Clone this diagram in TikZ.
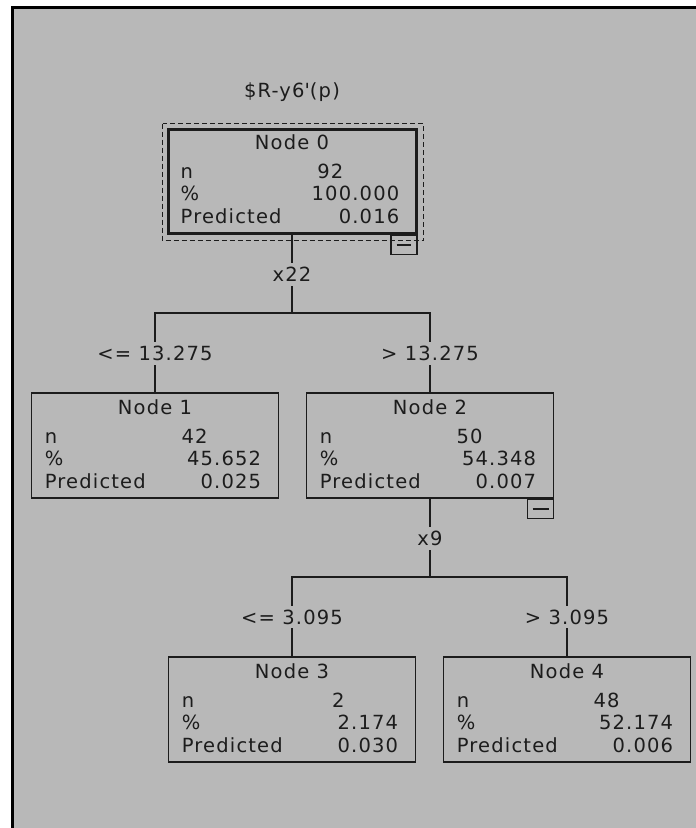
\documentclass[tikz,border=0pt]{standalone}
\usepackage{fontspec}
\newfontfamily\treefont{DejaVu Sans}[LetterSpace=6]
\definecolor{panelgray}{RGB}{184,184,184}
\definecolor{inkgray}{RGB}{28,28,28}
\tikzset{
    treebox/.style={rectangle, draw=inkgray, line width=1.6pt, minimum width=247pt, minimum height=105pt, inner sep=0pt},
    rootbox/.style={treebox, line width=3pt, minimum width=248pt, minimum height=104pt},
    dotbox/.style={draw=inkgray, line width=1.8pt, dash pattern=on 5pt off 3pt},
    iconbox/.style={rectangle, draw=inkgray, line width=1.6pt, minimum width=26pt, minimum height=19pt, inner sep=0pt, anchor=north east},
    celltext/.style={inner sep=0pt, text height=14pt, text depth=0pt, text=inkgray, font=\treefont\fontsize{19.5pt}{22pt}\selectfont},
    splitlabel/.style={celltext, minimum height=24pt},
    branch/.style={draw=inkgray, line width=1.6pt, line cap=rect}
}
% title row and the three statistic rows of one tree node
\newcommand{\noderows}[5]{%
    \node[celltext] (#1-t) at ([yshift=-15pt]#1.north) {#2};
    \node[celltext, anchor=west] (#1-nl) at ([shift={(14pt,-44pt)}]#1.north west) {n};
    \node[celltext, anchor=east] (#1-nv) at ([shift={(177pt,-44pt)}]#1.north west) {#3};
    \node[celltext, anchor=west] (#1-pl) at ([shift={(14pt,-66pt)}]#1.north west) {\%};
    \node[celltext, anchor=east] (#1-pv) at ([shift={(-18pt,-66pt)}]#1.north east) {#4};
    \node[celltext, anchor=west] (#1-ql) at ([shift={(14pt,-89pt)}]#1.north west) {Predicted};
    \node[celltext, anchor=east] (#1-qv) at ([shift={(-18pt,-89pt)}]#1.north east) {#5};
}

\begin{document}
\begin{tikzpicture}[x=1pt, y=-1pt]
    \useasboundingbox (0,0) rectangle (696,828);
    \fill[white] (0,0) rectangle (696,828);
    \fill[panelgray] (12,7) rectangle (696,828);
    \draw[line width=3pt] (12,828) -- (12,7) -- (696,7);

    \node[celltext] (title) at (292,90) {\$R-y6\textquotesingle(p)};

    % Tree nodes
    \node[rootbox] (n0) at (292,181) {};
    \draw[dotbox] ([shift={(-4pt,4pt)}]n0.north west) rectangle ([shift={(6pt,-6pt)}]n0.south east);
    \node[iconbox] (n0i) at (n0.south east) {};
    \draw[branch, line cap=butt] ([xshift=-7pt]n0i.center) -- ([xshift=7pt]n0i.center);
    \noderows{n0}{Node 0}{92}{100.000}{0.016}

    \node[treebox] (n1) at (155,445.5) {};
    \noderows{n1}{Node 1}{42}{45.652}{0.025}

    \node[treebox] (n2) at (430,445.5) {};
    \node[iconbox] (n2i) at (n2.south east) {};
    \draw[branch, line cap=butt] ([xshift=-8pt]n2i.center) -- ([xshift=8pt]n2i.center);
    \noderows{n2}{Node 2}{50}{54.348}{0.007}

    \node[treebox] (n3) at (292,709.5) {};
    \noderows{n3}{Node 3}{2}{2.174}{0.030}

    \node[treebox] (n4) at (567,709.5) {};
    \noderows{n4}{Node 4}{48}{52.174}{0.006}

    % Split variables and cut points
    \node[splitlabel] (s0) at (292,274.5) {x22};
    \node[splitlabel] (c1) at (155,353.5) {<= 13.275};
    \node[splitlabel] (c2) at (430,353.5) {> 13.275};
    \node[splitlabel] (s2) at (430,538.5) {x9};
    \node[splitlabel] (c3) at (292,617) {<= 3.095};
    \node[splitlabel] (c4) at (567,617) {> 3.095};

    \coordinate (b0) at (292,313);
    \coordinate (b0l) at (155,313);
    \coordinate (b0r) at (430,313);
    \coordinate (b2) at (430,577);
    \coordinate (b2l) at (292,577);
    \coordinate (b2r) at (567,577);

    % Branches
    \draw[branch] (n0) -- (s0);
    \draw[branch] (s0) -- (b0);
    \draw[branch] (b0l) -- (b0r);
    \draw[branch] (b0l) -- (c1);
    \draw[branch] (c1) -- (n1);
    \draw[branch] (b0r) -- (c2);
    \draw[branch] (c2) -- (n2);

    \draw[branch] (n2) -- (s2);
    \draw[branch] (s2) -- (b2);
    \draw[branch] (b2l) -- (b2r);
    \draw[branch] (b2l) -- (c3);
    \draw[branch] (c3) -- (n3);
    \draw[branch] (b2r) -- (c4);
    \draw[branch] (c4) -- (n4);
\end{tikzpicture}
\end{document}
